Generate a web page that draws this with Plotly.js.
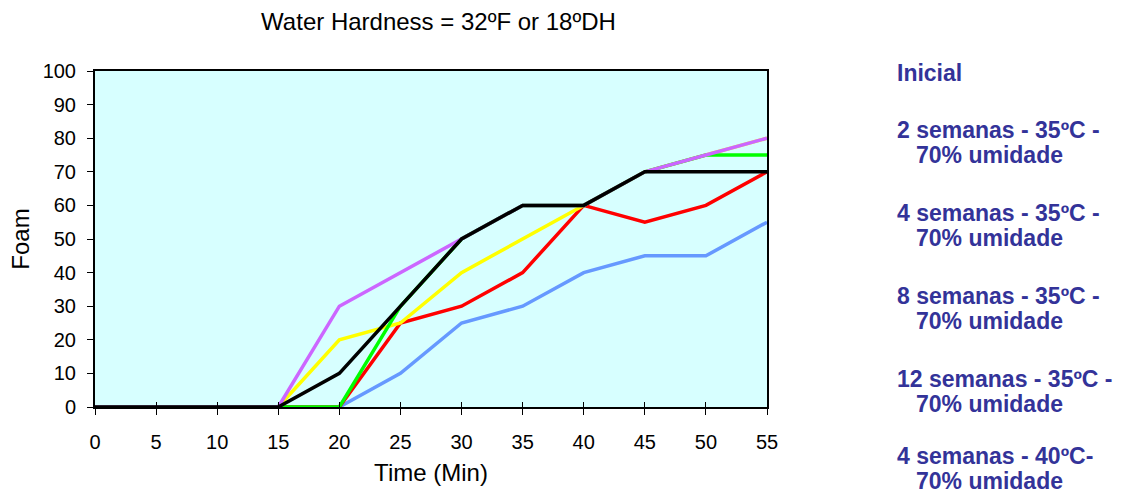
<!DOCTYPE html>
<html>
<head>
<meta charset="utf-8">
<script src="https://cdn.plot.ly/plotly-3.0.1.min.js"></script>
<style>html,body{margin:0;padding:0;background:#fff;}#chart{width:1122px;height:495px;}</style>
</head>
<body>
<div id="chart"></div>
<script>
const time = [0, 5, 10, 15, 20, 25, 30, 35, 40, 45, 50, 55];
const legendLine1 = [
  "Inicial",
  "2 semanas - 35ºC -",
  "4 semanas - 35ºC -",
  "8 semanas - 35ºC -",
  "12 semanas - 35ºC -",
  "4 semanas - 40ºC-"
];
const legendLine2 = ["", "70% umidade", "70% umidade", "70% umidade", "70% umidade", "70% umidade"];
const blueVals   = [0, 0, 0, 0, 0, 10, 25, 30, 40, 45, 45, 55];
const redVals    = [0, 0, 0, 0, 0, 25, 30, 40, 60, 55, 60, 70];
const yellowVals = [0, 0, 0, 0, 20, 25, 40, 50, 60, 70, 75, 80];
const greenVals  = [0, 0, 0, 0, 0, 30, 50, 60, 60, 70, 75, 75];
const purpleVals = [0, 0, 0, 0, 30, 40, 50, 60, 60, 70, 75, 80];
const blackVals  = [0, 0, 0, 0, 10, 30, 50, 60, 60, 70, 70, 70];

const seriesData = [blueVals, redVals, yellowVals, greenVals, purpleVals, blackVals];
const seriesColors = ["#6699ff", "#ff0000", "#ffff00", "#00ff00", "#cc66ff", "#000000"];

const traces = seriesData.map((v, i) => ({
  x: time, y: v, type: "scatter", mode: "lines",
  line: {color: seriesColors[i], width: 3.5},
  showlegend: false, hoverinfo: "x+y"
}));
// helper invisible trace on overlay axis for crossing ticks
traces.push({x: [time[0], time[time.length-1]], y: [0, 0], xaxis: "x2", type: "scatter", mode: "lines",
  line: {width: 0}, showlegend: false, hoverinfo: "skip"});

const FONT = "Liberation Sans, Arial, sans-serif";
const plotL = 95, plotW = 672, plotT = 71, plotH = 336;
const legendTop = [73, 130, 213, 296, 379, 456];
const annotations = [];
legendLine1.forEach((t, i) => {
  annotations.push({text: "<b>" + t + "</b>", xref: "paper", yref: "paper",
    x: (895 - plotL) / plotW, xanchor: "left", y: 1 - (legendTop[i] - plotT) / plotH, yanchor: "middle",
    showarrow: false, font: {family: FONT, size: 23, color: "#333399"}});
  if (legendLine2[i]) {
    annotations.push({text: "<b>" + legendLine2[i] + "</b>", xref: "paper", yref: "paper",
      x: (914 - plotL) / plotW, xanchor: "left", y: 1 - (legendTop[i] + 25 - plotT) / plotH, yanchor: "middle",
      showarrow: false, font: {family: FONT, size: 23, color: "#333399"}});
  }
});

const layout = {
  width: 1122, height: 495,
  margin: {l: 95, r: 355, t: 71, b: 88},
  paper_bgcolor: "#ffffff",
  plot_bgcolor: "#d7ffff",
  title: {text: "Water Hardness = 32ºF or 18ºDH", x: 438.5 / 1122, xanchor: "center", y: 1 - 22 / 495, yanchor: "middle",
    font: {family: FONT, size: 24, color: "#000"}},
  xaxis: {range: [0, 55], tickvals: time, ticks: "outside", ticklen: 6, tickcolor: "#000", tickwidth: 1,
    ticklabelstandoff: 10,
    showgrid: false, zeroline: false, showline: true, linecolor: "#000", linewidth: 2, mirror: true,
    tickfont: {family: FONT, size: 20, color: "#000"},
    title: {text: "Time (Min)", standoff: 12, font: {family: FONT, size: 24, color: "#000"}}},
  xaxis2: {range: [0, 55], tickvals: time, ticks: "inside", ticklen: 5, tickcolor: "#000", tickwidth: 1,
    overlaying: "x", side: "bottom", showticklabels: false, showgrid: false, zeroline: false, showline: false},
  yaxis: {range: [0, 100], dtick: 10, ticks: "outside", ticklen: 6, tickcolor: "#000", tickwidth: 1,
    ticklabelstandoff: 7,
    showgrid: false, zeroline: false, showline: true, linecolor: "#000", linewidth: 2, mirror: true,
    tickfont: {family: FONT, size: 20, color: "#000"},
    title: {text: "Foam", standoff: 6, font: {family: FONT, size: 24, color: "#000"}}},
  annotations: annotations
};
Plotly.newPlot("chart", traces, layout, {displayModeBar: false, staticPlot: true});
</script>
</body>
</html>
